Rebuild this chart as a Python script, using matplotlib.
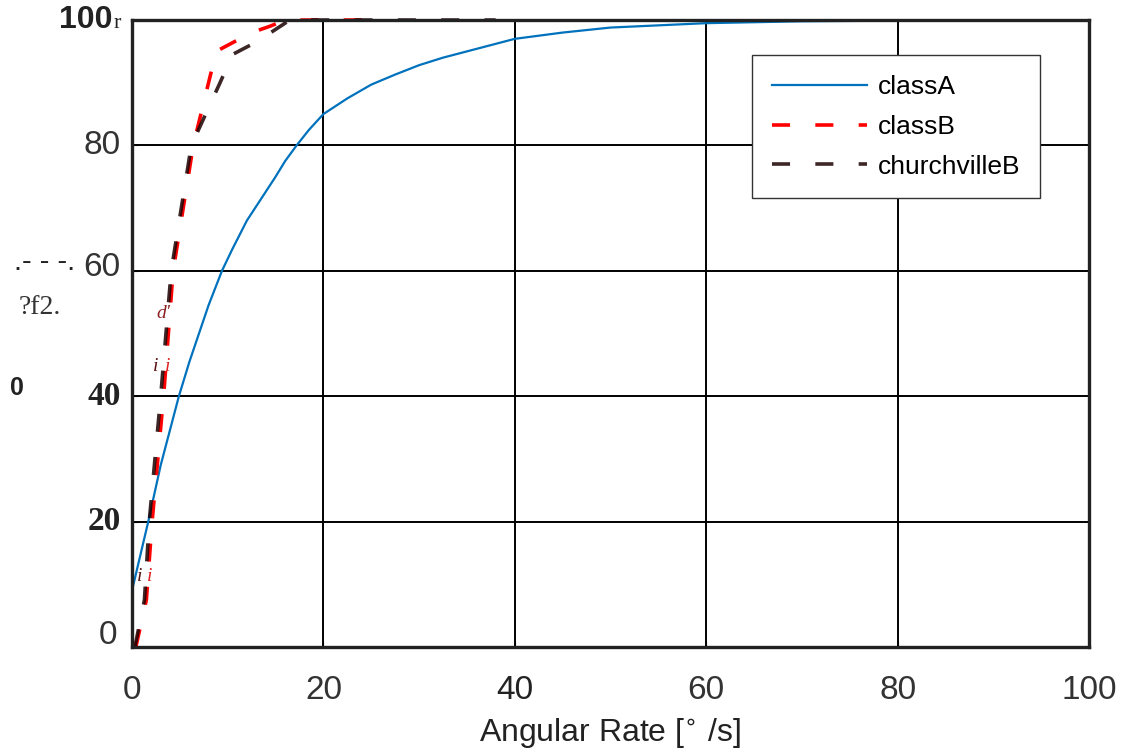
import numpy as np
import matplotlib
matplotlib.use("Agg")
import matplotlib.pyplot as plt

# values
classA_x = [0, 1.7, 3, 4.9, 6, 7, 8, 9.4, 10.5, 12, 13.5, 15, 16, 17.2, 18.5, 20, 22.5,
            25, 27.5, 30, 32.5, 35, 40, 45, 50, 60, 70, 80, 100]
classA_y = [9, 20, 29, 40, 45.5, 50, 54.5, 60, 63.5, 68, 71.5, 75, 77.5, 80, 82.5, 85, 87.5,
            89.7, 91.3, 92.8, 94, 95, 97, 98, 98.8, 99.5, 99.8, 99.9, 100]

classB_x = [0.4, 1.5, 2.1, 2.7, 3.3, 4.3, 6.4, 8.8, 12.5, 14.4, 16.0, 26.0]
classB_y = [0, 7.5, 20, 30, 40, 60, 80, 95, 98, 99, 100, 100]

church_x = [0.3, 1.3, 1.8, 2.4, 3.0, 4.1, 6.2, 9.2, 10.5, 13.0, 16.5, 38.0]
church_y = [0, 7.5, 20, 30, 40, 60, 80, 90, 94.5, 96.5, 100, 100]

xticks = [0, 20, 40, 60, 80, 100]
yticks = [0, 20, 40, 60, 80, 100]

fig = plt.figure(figsize=(11.34, 7.53), dpi=100)
ax = fig.add_axes([0.1164, 0.1408, 0.8439, 0.8326])

ax.plot(classA_x, classA_y, color='#0072BD', lw=1.6, label='classA')
ax.plot(classB_x, classB_y, color='#ff0000', lw=2.6, dashes=(5, 7), label='classB', clip_on=False)
ax.plot(church_x, church_y, color='#1a0000', lw=2.6, dashes=(5, 7), alpha=0.85,
        label='churchvilleB', clip_on=False)

ax.set_xlim(0, 100)
ax.set_ylim(0, 100)
ax.set_xticks(xticks)
ax.set_yticks(yticks)
ax.grid(True, color='black', lw=1.4)
ax.tick_params(direction='in', length=4, labelleft=False, labelbottom=False)
for s in ax.spines.values():
    s.set_linewidth(2.4)
    s.set_color('#222222')

# y tick labels, mixed fonts like the scan
yt = ax.get_yaxis_transform()
ax.text(-0.02, 100, '100', transform=yt, ha='right', va='center', fontsize=23,
        fontweight='bold', family='Liberation Sans', color='#222222')
ax.text(-0.019, 99.5, 'r', transform=yt, ha='left', va='center', fontsize=16,
        family='Liberation Serif', color='#222222')
ax.text(-0.012, 80, '80', transform=yt, ha='right', va='center', fontsize=24,
        family='Liberation Sans', color='#333333')
ax.text(-0.012, 60.5, '60', transform=yt, ha='right', va='center', fontsize=24,
        family='Liberation Sans', color='#333333')
ax.text(-0.012, 40, '40', transform=yt, ha='right', va='center', fontsize=24,
        fontweight='bold', family='Liberation Serif', color='#222222')
ax.text(-0.012, 20, '20', transform=yt, ha='right', va='center', fontsize=24,
        fontweight='bold', family='Liberation Serif', color='#222222')
ax.text(-0.015, 1.8, '0', transform=yt, ha='right', va='center', fontsize=24,
        family='Liberation Sans', color='#333333')

# x tick labels
xt = ax.get_xaxis_transform()
for v in xticks:
    ax.text(v, -0.07, str(v), transform=xt, ha='center', va='center', fontsize=24,
            family='Liberation Sans', color='#222222' if v == 40 else '#333333')

ax.set_xlabel('Angular Rate [$^{\\circ}$ /s]', fontsize=23, family='Liberation Sans',
              color='#222222', labelpad=50)

# garbled y label fragments
fig.text(0.012, 0.642, '.- - -.', fontsize=21, family='Liberation Sans', color='#222222')
fig.text(0.016, 0.583, '?f2.', fontsize=20, family='Liberation Serif', color='#333333')
fig.text(0.009, 0.475, '0', fontsize=18, fontweight='bold', family='Liberation Sans', color='#222222')

# stray marks near the steep curves
ax.text(0.5, 10.5, 'i', fontsize=14, style='italic', family='Liberation Serif', color='#5a1010')
ax.text(1.6, 10.5, 'i', fontsize=14, style='italic', family='Liberation Serif', color='#e02020')
ax.text(2.2, 44, 'i', fontsize=14, style='italic', family='Liberation Serif', color='#5a1010')
ax.text(3.4, 44, 'i', fontsize=14, style='italic', family='Liberation Serif', color='#e02020')
ax.text(2.6, 52.5, "d'", fontsize=14, style='italic', family='Liberation Serif', color='#8a2020')

ax.legend(loc='upper left', bbox_to_anchor=(0.648, 0.944), borderaxespad=0,
          frameon=True, fancybox=False, edgecolor='#333333', framealpha=1,
          handlelength=3.6, handletextpad=0.4, borderpad=0.75, labelspacing=0.6,
          prop={'family': 'Liberation Sans', 'size': 19})

fig.savefig('out.png', dpi=100)
